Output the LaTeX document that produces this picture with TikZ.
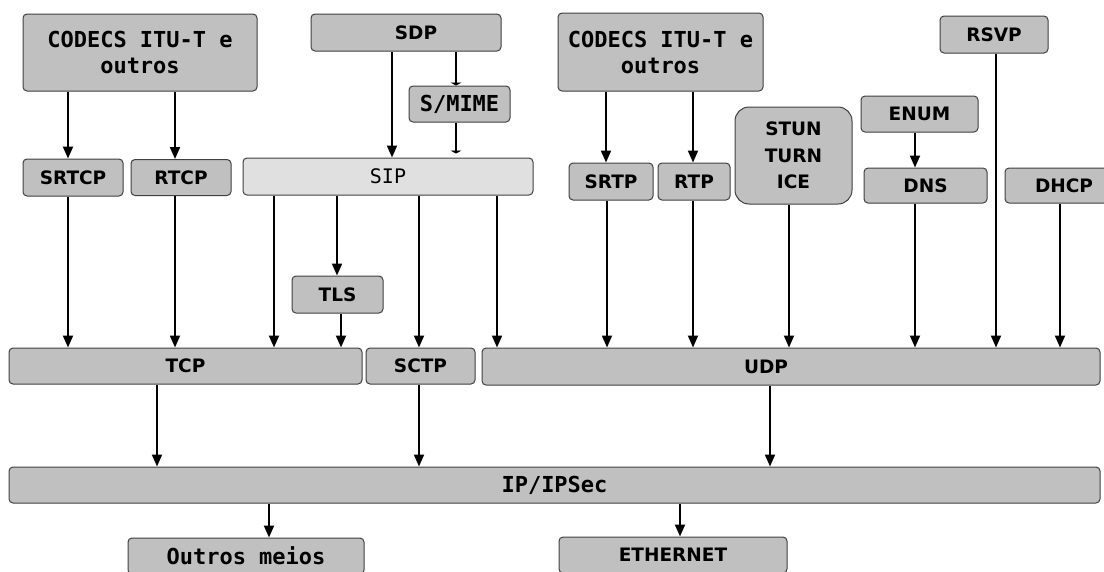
\documentclass[tikz,border=0pt]{standalone}
\usepackage{fontspec}
\setmainfont{DejaVu Sans}
\newfontfamily\codefont{DejaVu Sans Mono}
\usetikzlibrary{arrows.meta,positioning}
\definecolor{boxgray}{HTML}{C0C0C0}
\definecolor{sipgray}{HTML}{E0E0E0}

\begin{document}
\begin{tikzpicture}[
    x=1pt, y=-1pt,
    node distance=6pt,
    box/.style={draw=black!75, line width=1pt, rounded corners=4pt, fill=boxgray, inner sep=0pt, align=center, font=\fontsize{18.5}{26.5}\selectfont\bfseries},
    codebox/.style={box, font=\codefont\fontsize{22}{26}\selectfont\bfseries},
    flow/.style={-{Triangle[length=12pt,width=10pt]}, line width=2pt},
    tick/.style={-{Triangle[length=3pt,width=11pt]}, line width=2pt}
]
\clip (0,0) rectangle (1104,571);
% application layer
\node[codebox, minimum width=234pt, minimum height=77pt] (codecsL) at (140,52.5) {CODECS ITU-T e\\outros};
\node[box, minimum width=190pt, minimum height=37pt] (sdp) at (406,32.5) {\hspace*{20pt}SDP};
\node[codebox, minimum width=101pt, minimum height=36pt] (smime) at (459.5,104) {S/MIME};
\node[codebox, minimum width=205pt, minimum height=78pt] (codecsR) at (660.5,52) {CODECS ITU-T e\\outros};
\node[box, minimum width=108pt, minimum height=37pt] (rsvp) at (994,34.5) {RSVP};
\node[box, minimum width=117pt, minimum height=36pt] (enum) at (919.5,114) {ENUM};
\node[box, rounded corners=14pt, minimum width=117pt, minimum height=97pt] (stun) at (793.5,155.5) {STUN\\TURN\\ICE};
% session / media
\node[box, minimum width=100pt, minimum height=37pt] (srtcp) at (73,177.5) {SRTCP};
\node[box, minimum width=100pt, minimum height=36pt, right=7pt of srtcp] (rtcp) {RTCP};
\node[box, fill=sipgray, minimum width=290pt, minimum height=37pt, font=\codefont\fontsize{20}{24}\selectfont] (sip) at (388,176.5) {SIP};
\node[box, minimum width=84pt, minimum height=37pt] (srtp) at (611,181.5) {SRTP};
\node[box, minimum width=72pt, minimum height=37pt, right=4pt of srtp] (rtp) {RTP};
\node[box, minimum width=123pt, minimum height=35pt] (dns) at (925.5,185.5) {DNS};
\node[box, minimum width=118pt, minimum height=35pt] (dhcp) at (1064,185.5) {DHCP};
\node[box, minimum width=91pt, minimum height=37pt] (tls) at (337.5,294.5) {TLS};
% transport
\node[box, minimum width=353pt, minimum height=36pt] (tcp) at (185.5,366) {TCP};
\node[box, minimum width=109pt, minimum height=36pt, right=3pt of tcp] (sctp) {SCTP};
\node[box, minimum width=618pt, minimum height=37pt] (udp) at (791,366.5) {UDP\hspace*{50pt}};
% network and below
\node[codebox, minimum width=1091pt, minimum height=36pt] (ip) at (554.5,485) {IP/IPSec};
\node[codebox, minimum width=236pt, minimum height=36pt] (outros) at (246,556) {Outros meios};
\node[box, minimum width=228pt, minimum height=36pt] (ether) at (673,555) {ETHERNET};

\draw[flow] (codecsL.south -| 68,0) -- (srtcp.north -| 68,0);
\draw[flow] (codecsL.south -| 175,0) -- (rtcp.north -| 175,0);
\draw[flow] (sdp.south -| 392,0) -- (sip.north -| 392,0);
\draw[tick] (sdp.south -| 456,0) -- (smime.north -| 456,0);
\draw[tick, shorten >=4pt] (smime.south -| 456,0) -- (sip.north -| 456,0);
\draw[flow] (codecsR.south -| 606,0) -- (srtp.north -| 606,0);
\draw[flow] (codecsR.south -| 693,0) -- (rtp.north -| 693,0);
\draw[flow] (enum.south -| 915,0) -- (dns.north -| 915,0);

\draw[flow] (srtcp.south -| 68,0) -- (tcp.north -| 68,0);
\draw[flow] (rtcp.south -| 175,0) -- (tcp.north -| 175,0);
\draw[flow] (sip.south -| 274,0) -- (tcp.north -| 274,0);
\draw[flow] (sip.south -| 337,0) -- (tls.north -| 337,0);
\draw[flow] (tls.south -| 341,0) -- (tcp.north -| 341,0);
\draw[flow] (sip.south -| 419,0) -- (sctp.north -| 419,0);
\draw[flow] (sip.south -| 497,0) -- (udp.north -| 497,0);
\draw[flow] (srtp.south -| 607,0) -- (udp.north -| 607,0);
\draw[flow] (rtp.south -| 693,0) -- (udp.north -| 693,0);
\draw[flow] (stun.south -| 789,0) -- (udp.north -| 789,0);
\draw[flow] (dns.south -| 915,0) -- (udp.north -| 915,0);
\draw[flow] (rsvp.south -| 996,0) -- (udp.north -| 996,0);
\draw[flow] (dhcp.south -| 1060,0) -- (udp.north -| 1060,0);

\draw[flow] (tcp.south -| 157,0) -- (ip.north -| 157,0);
\draw[flow] (sctp.south -| 419,0) -- (ip.north -| 419,0);
\draw[flow] (udp.south -| 770,0) -- (ip.north -| 770,0);
\draw[flow] (ip.south -| 269,0) -- (outros.north -| 269,0);
\draw[flow] (ip.south -| 680,0) -- (ether.north -| 680,0);
\end{tikzpicture}
\end{document}
